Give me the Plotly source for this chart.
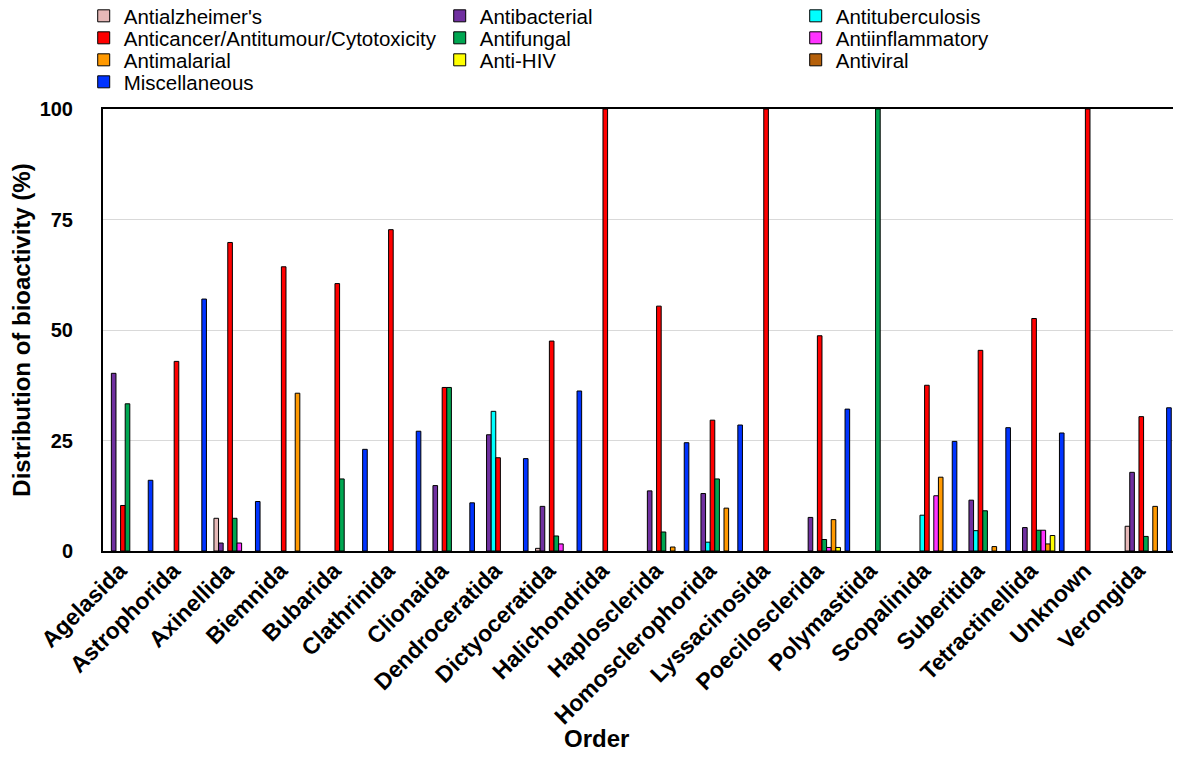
import plotly.graph_objects as go

# ==========================================
# data
# ==========================================
orders = ["Agelasida", "Astrophorida", "Axinellida", "Biemnida", "Bubarida",
          "Clathrinida", "Clionaida", "Dendroceratida", "Dictyoceratida",
          "Halichondrida", "Haplosclerida", "Homosclerophorida", "Lyssacinosida",
          "Poecilosclerida", "Polymastiida", "Scopalinida", "Suberitida",
          "Tetractinellida", "Unknown", "Verongida"]

antialzheimers = [0, 0, 7.4, 0, 0, 0, 0, 0, 0.6, 0, 0, 0, 0, 0, 0, 0, 0, 0, 0, 5.6]
antibacterial = [40.2, 0, 1.8, 0, 0, 0, 14.8, 26.3, 10.1, 0, 13.6, 13.0, 0, 7.6, 0, 0, 11.5, 5.3, 0, 17.8]
antituberculosis = [0, 0, 0, 0, 0, 0, 0, 31.6, 0, 0, 0, 2.0, 0, 0, 0, 8.1, 4.6, 0, 0, 0]
anticancer = [10.3, 42.9, 69.8, 64.3, 60.5, 72.7, 37.0, 21.1, 47.5, 100, 55.4, 29.6, 100, 48.7, 0, 37.5, 45.4, 52.6, 100, 30.4]
antifungal = [33.3, 0, 7.4, 0, 16.3, 0, 37.0, 0, 3.4, 0, 4.3, 16.3, 0, 2.6, 100, 0, 9.1, 4.7, 0, 3.3]
antiinflammatory = [0, 0, 1.8, 0, 0, 0, 0, 0, 1.6, 0, 0, 0, 0, 0.8, 0, 12.5, 0, 4.7, 0, 0]
antimalarial = [0, 0, 0, 35.7, 0, 0, 0, 0, 0, 0, 0.9, 9.7, 0, 7.1, 0, 16.7, 1.0, 1.6, 0, 10.1]
anti_hiv = [0, 0, 0, 0, 0, 0, 0, 0, 0, 0, 0, 0, 0, 0.8, 0, 0, 0, 3.5, 0, 0]
antiviral = [0, 0, 0, 0, 0, 0, 0, 0, 0, 0, 0, 0, 0, 0, 0, 0, 0, 0, 0, 0]
miscellaneous = [16.0, 57.0, 11.2, 0, 23.0, 27.1, 10.9, 20.9, 36.2, 0, 24.5, 28.5, 0, 32.1, 0, 24.8, 27.9, 26.7, 0, 32.4]

series = [
    ("Antialzheimer's", antialzheimers, "#E6B8B7"),
    ("Antibacterial", antibacterial, "#7030A0"),
    ("Antituberculosis", antituberculosis, "#00FFFF"),
    ("Anticancer/Antitumour/Cytotoxicity", anticancer, "#FF0000"),
    ("Antifungal", antifungal, "#00A651"),
    ("Antiinflammatory", antiinflammatory, "#FF33FF"),
    ("Antimalarial", antimalarial, "#FF9900"),
    ("Anti-HIV", anti_hiv, "#FFFF00"),
    ("Antiviral", antiviral, "#B5600A"),
    ("Miscellaneous", miscellaneous, "#0033FF"),
]

FONT = "Arial, Liberation Sans, sans-serif"

# legend rows (pixel centre from the top) -> one legend per row, 3 entries each
ROW_Y = [16, 38, 60, 82]
LEGEND_NUDGE = 8   # plotly draws the text a bit below the box centre
PLOT_TOP, PLOT_BOTTOM = 101, 543

fig = go.Figure()
for i, (name, vals, col) in enumerate(series):
    leg = "legend" if i < 3 else f"legend{i // 3 + 1}"
    fig.add_trace(go.Bar(
        x=orders, y=[v if v else None for v in vals], name=name, legend=leg,
        marker=dict(color=col, line=dict(color="black", width=1)),
    ))

legend_style = dict(
    orientation="h", x=-0.018, xanchor="left", yanchor="middle",
    entrywidth=311, entrywidthmode="pixels", bgcolor="rgba(0,0,0,0)",
    font=dict(size=20.5, family=FONT, color="black"), itemclick=False,
)
legends = {}
for r, ypx in enumerate(ROW_Y):
    key = "legend" if r == 0 else f"legend{r + 1}"
    legends[key] = dict(legend_style, y=(PLOT_BOTTOM - ypx + LEGEND_NUDGE) / (PLOT_BOTTOM - PLOT_TOP))

fig.update_layout(
    width=1181, height=769,
    paper_bgcolor="white", plot_bgcolor="white",
    barmode="group", bargap=0.14, bargroupgap=0,
    margin=dict(l=95, r=14, t=PLOT_TOP, b=769 - PLOT_BOTTOM, autoexpand=False),
    font=dict(family=FONT, color="black"),
    **legends,
)

fig.update_xaxes(
    tickangle=-45, tickfont=dict(size=23, family=FONT, weight="bold"),
    ticklabelshift=-10, ticklabelstandoff=-5,
    showline=True, linecolor="black", linewidth=2, mirror=True,
    ticks="", showgrid=False,
)
fig.update_yaxes(
    title=dict(text="<b>Distribution of bioactivity (%)</b>", font=dict(size=24, family=FONT), standoff=6),
    range=[0, 100], tickvals=[0, 25, 50, 75, 100],
    tickfont=dict(size=20, family=FONT, weight="bold"),
    showline=True, linecolor="black", linewidth=2, mirror=True,
    showgrid=True, gridcolor="#D9D9D9", gridwidth=1, zeroline=False,
    ticks="", ticklabelstandoff=24,
)

# axis title sits left of centre in the original, so place it as an annotation
fig.add_annotation(
    text="<b>Order</b>", xref="paper", yref="paper",
    x=(588 - 95) / (1167 - 95), y=(PLOT_BOTTOM - 746) / (PLOT_BOTTOM - PLOT_TOP),
    showarrow=False, font=dict(size=24, family=FONT, color="black"),
)

fig.write_html("out.html")
